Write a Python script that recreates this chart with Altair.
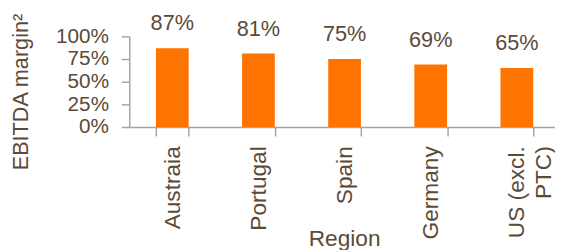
import altair as alt
import pandas as pd

regions = ["Austraia", "Portugal", "Spain", "Germany", "US (excl.\nPTC)"]
margins = [0.87, 0.81, 0.75, 0.69, 0.65]
y_ticks = [0, 0.25, 0.5, 0.75, 1.0]

df = pd.DataFrame({"Region": regions, "margin": margins})

TEXT = "#5B4A38"
AXIS = "#A8A39D"
ORANGE = "#FF7300"
FONT = "Liberation Sans"

x = alt.X(
    "Region:N", sort=regions, title="Region",
    scale=alt.Scale(paddingInner=0.62, paddingOuter=0.31, range=[0, 437]),
    axis=alt.Axis(
        labelAngle=-90, labelFontSize=23, labelColor=TEXT, labelPadding=10,
        labelLineHeight=27, labelExpr="split(datum.label, '\\n')",
        tickBand="extent", tickSize=9, tickColor=AXIS, tickWidth=1.5,
        domainColor=AXIS, domainWidth=1.5,
        titleFontSize=23, titleColor=TEXT, titleFontWeight="normal",
        titleY=120, titleX=218, titleBaseline="alphabetic", titleAlign="center",
    ),
)
y = alt.Y(
    "margin:Q", title="EBITDA margin²",
    scale=alt.Scale(domain=[0, 1], nice=False),
    axis=alt.Axis(
        values=y_ticks, format=".0%", labelFontSize=21, labelColor=TEXT,
        labelPadding=13, tickSize=8, tickColor=AXIS, tickWidth=1.5,
        domainColor=AXIS, domainWidth=1.5, grid=False,
        titleFontSize=22, titleColor=TEXT, titleFontWeight="normal",
        titleX=-103, titleY=56, titleAngle=-90, titleAlign="center",
        titleBaseline="alphabetic",
    ),
)

bars = alt.Chart(df).mark_bar(color=ORANGE).encode(x=x, y=y)
labels = alt.Chart(df).mark_text(
    dy=-18, baseline="alphabetic", fontSize=22, color=TEXT, font=FONT
).encode(x=x, y=y, text=alt.Text("margin:Q", format=".0%"))

chart = (
    (bars + labels)
    .properties(
        width=432, height=92,
        padding={"left": 123, "top": 27, "right": 0, "bottom": 123},
        autosize=alt.AutoSizeParams(type="none"),
    )
    .configure(font=FONT)
    .configure_axis(labelFont=FONT, titleFont=FONT)
    .configure_view(stroke=None)
)

chart.save("out.html", embed_options={"renderer": "svg", "actions": False})
